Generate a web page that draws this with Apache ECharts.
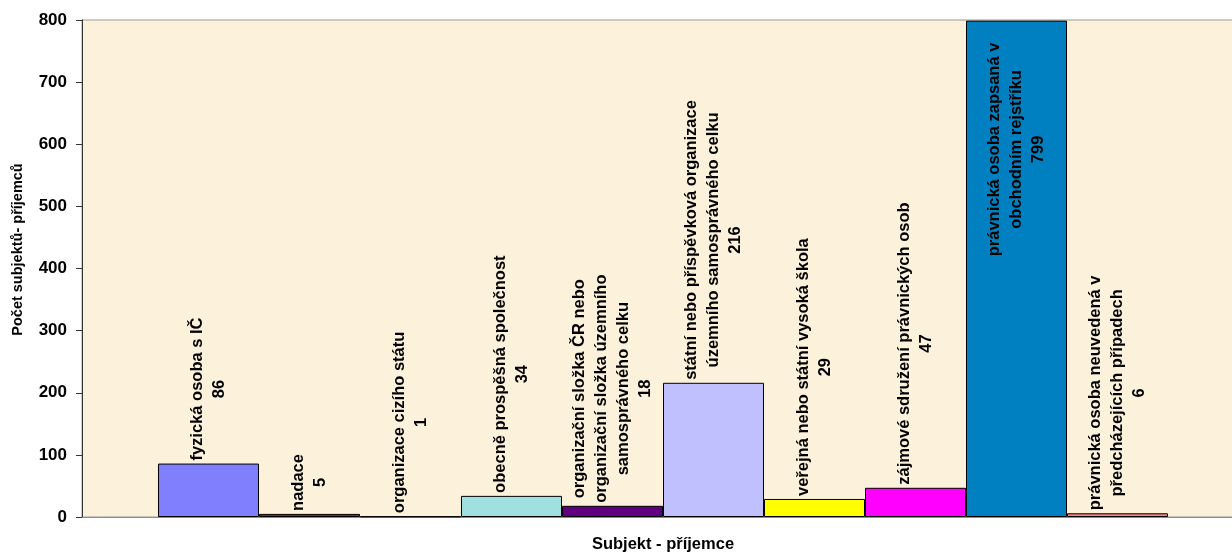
<!DOCTYPE html>
<html>
<head>
<meta charset="utf-8">
<script src="https://cdn.jsdelivr.net/npm/echarts@6/dist/echarts.min.js"></script>
<style>
html,body{margin:0;padding:0;background:#fff;overflow:hidden;}
#chart{width:1244px;height:558px;}
</style>
</head>
<body>
<div id="chart"></div>
<script>
// ---- data ----
const categories = [
  'fyzická osoba s IČ',
  'nadace',
  'organizace cizího státu',
  'obecně prospěšná společnost',
  'organizační složka ČR nebo\norganizační složka územního\nsamosprávného celku',
  'státní nebo příspěvková organizace\núzemního samosprávného celku',
  'veřejná nebo státní vysoká škola',
  'zájmové sdružení právnických osob',
  'právnická osoba zapsaná v\nobchodním rejstříku',
  'právnická osoba neuvedená v\npředcházejících případech'
];
const values = [86, 5, 1, 34, 18, 216, 29, 47, 799, 6];
const yTicks = [0, 100, 200, 300, 400, 500, 600, 700, 800];
const xAxisTitle = 'Subjekt - příjemce';
const yAxisTitle = 'Počet subjektů- příjemců';

// ---- styles ----
const colors = ['#8080FF', '#E00000', '#FFFFC0', '#A0E0E0', '#600080', '#C0C0FF', '#FFFF00', '#FF00FF', '#0080C0', '#FF8080'];
const FONT = 'Liberation Sans, Arial, sans-serif';

const chart = echarts.init(document.getElementById('chart'), null, {renderer: 'canvas'});

function labelFormatter(name, v) {
  const lines = name.split('\n').concat([String(v)]);
  return lines.map(l => '{c|' + l + '}').join('\n');
}

const series = categories.map((name, i) => {
  const inside = values[i] > 600;
  return {
    type: 'bar',
    name: name,
    data: [values[i]],
    barGap: '0%',
    barCategoryGap: '13.08%',
    itemStyle: {color: colors[i], borderColor: '#000', borderWidth: 1},
    label: {
      show: true,
      position: inside ? 'insideTop' : 'top',
      distance: inside ? 22 : 3,
      rotate: 90,
      align: inside ? 'right' : 'left',
      verticalAlign: 'middle',
      formatter: () => labelFormatter(name, values[i]),
      rich: {
        c: {fontFamily: FONT, fontWeight: 'bold', fontSize: 16.5, lineHeight: 22, color: '#000', align: 'center'}
      }
    }
  };
});

chart.setOption({
  animation: false,
  backgroundColor: '#ffffff',
  grid: {
    left: 82, top: 20, bottom: 38, right: 0,
    show: true, backgroundColor: '#FCF1DB', borderColor: '#9a9a9a', borderWidth: 1
  },
  xAxis: {
    type: 'category',
    data: [''],
    name: xAxisTitle,
    nameLocation: 'middle',
    nameGap: 19,
    nameTextStyle: {fontFamily: FONT, fontWeight: 'bold', fontSize: 16.5, color: '#000'},
    axisLine: {show: true, lineStyle: {color: '#8c8c8c', width: 1}},
    axisTick: {show: false},
    axisLabel: {show: false},
    splitLine: {show: false}
  },
  yAxis: {
    type: 'value',
    min: yTicks[0],
    max: yTicks[yTicks.length - 1],
    interval: yTicks[1] - yTicks[0],
    name: yAxisTitle,
    nameLocation: 'middle',
    nameGap: 57,
    nameRotate: 90,
    nameTextStyle: {fontFamily: FONT, fontWeight: 'bold', fontSize: 14.5, color: '#000', padding: [0, 0, 0, 38]},
    axisLine: {show: true, lineStyle: {color: '#333', width: 1}},
    axisTick: {show: true, inside: false, length: 6, lineStyle: {color: '#333'}},
    axisLabel: {margin: 15, fontFamily: FONT, fontWeight: 'bold', fontSize: 17, color: '#000'},
    splitLine: {show: false}
  },
  series: series
});
</script>
</body>
</html>
